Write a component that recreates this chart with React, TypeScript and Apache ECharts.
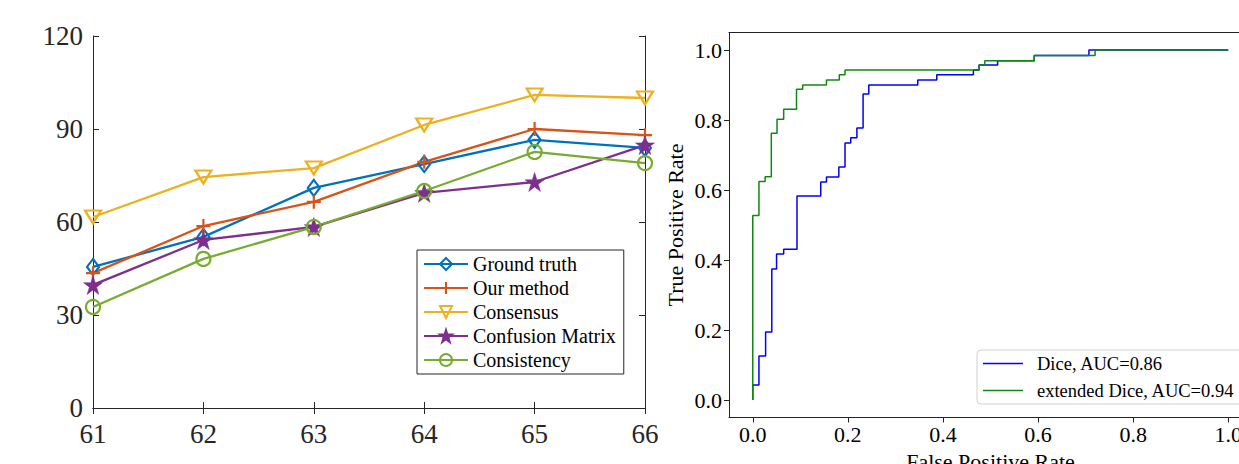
import React, { useEffect, useRef } from "react";
import * as echarts from "echarts";

// ---------- Left panel data ----------
const xCats = [61, 62, 63, 64, 65, 66];
const groundTruth = [45.5, 55.2, 71.0, 78.7, 86.5, 83.9];
const ourMethod = [43.5, 58.7, 66.5, 79.4, 90.0, 88.0];
const consensus = [61.6, 74.5, 77.4, 91.3, 101.0, 100.0];
const confusionMatrix = [39.7, 54.2, 58.4, 69.4, 72.9, 84.8];
const consistency = [32.6, 48.1, 58.4, 70.0, 82.6, 79.0];
const leftNames = ["Ground truth", "Our method", "Consensus", "Confusion Matrix", "Consistency"];

// ---------- Right panel data (ROC) ----------
const diceFpr = [0, 0, 0.013, 0.027, 0.04, 0.05, 0.065, 0.093, 0.143, 0.155, 0.181, 0.194, 0.206, 0.219, 0.232, 0.244, 0.347, 0.387, 0.464, 0.476, 0.515, 0.592, 0.707, 1.0];
const diceTpr = [0, 0.043, 0.126, 0.194, 0.374, 0.417, 0.431, 0.583, 0.623, 0.637, 0.666, 0.734, 0.749, 0.777, 0.874, 0.9, 0.914, 0.929, 0.943, 0.957, 0.969, 0.984, 1.0, 1.0];
const extFpr = [0, 0, 0.013, 0.026, 0.039, 0.051, 0.065, 0.092, 0.105, 0.155, 0.182, 0.194, 0.476, 0.488, 0.592, 0.72, 1.0];
const extTpr = [0, 0.527, 0.624, 0.638, 0.762, 0.802, 0.831, 0.888, 0.9, 0.914, 0.929, 0.943, 0.957, 0.969, 0.984, 1.0, 1.0];
const rocTicks = [0, 0.2, 0.4, 0.6, 0.8, 1.0];
const rocNames = ["Dice, AUC=0.86", "extended Dice, AUC=0.94"];

const SERIF = "'Liberation Serif', 'Times New Roman', serif";
const AX = "#262626";

const STAR = "path://M10,0 L12.245,6.91 L19.51,6.91 L13.63,11.18 L15.88,18.09 L10,13.82 L4.12,18.09 L6.37,11.18 L0.49,6.91 L7.755,6.91 Z";
const PLUS = "path://M5,0 L5,10 M0,5 L10,5";
const DIAMOND = "path://M5,0 L10,7 L5,14 L0,7 Z";
const TRIDOWN = "path://M0,0 L12,0 L6,10 Z";

const clear = "rgba(255,255,255,0)";

function lineSeries(name: string, vals: number[], color: string, symbol: string, size: any, filled = false) {
  return {
    name,
    type: "line",
    xAxisIndex: 0,
    yAxisIndex: 0,
    data: xCats.map((x, i) => [x, vals[i]]),
    color,
    symbol,
    symbolSize: size,
    showAllSymbol: true,
    clip: false,
    lineStyle: { color, width: 2.3 },
    itemStyle: { color: filled ? color : clear, borderColor: color, borderWidth: filled ? 0.5 : 2.2 },
    emphasis: { disabled: true },
  };
}

export default function App() {
  const ref = useRef<HTMLDivElement>(null);
  useEffect(() => {
    const chart = echarts.init(ref.current!, null, { renderer: "svg" });
    const tickLabel = { fontFamily: SERIF, color: AX };
    const option: any = {
      animation: false,
      backgroundColor: "#fff",
      grid: [
        { left: 93, top: 36, width: 552, height: 372, outerBoundsMode: "none", containLabel: false },
        { left: 729, top: 32.5, width: 523, height: 385, outerBoundsMode: "none", containLabel: false },
      ],
      legend: [
        {
          data: leftNames,
          left: 417,
          top: 250,
          orient: "vertical",
          itemWidth: 44,
          itemHeight: 15,
          itemGap: 4,
          padding: [4, 8, 4, 6],
          borderColor: AX,
          borderWidth: 1,
          backgroundColor: "#fff",
          textStyle: { fontFamily: SERIF, fontSize: 20, color: "#000", lineHeight: 20 },
          selectedMode: false,
        },
        {
          data: rocNames.map((n) => ({ name: n, icon: "rect" })),
          left: 977,
          top: 350,
          orient: "vertical",
          itemWidth: 40,
          itemHeight: 1.6,
          itemGap: 8,
          padding: [4, 30, 4, 6],
          borderColor: "#d0d0d0",
          borderWidth: 1,
          borderRadius: 4,
          backgroundColor: "rgba(255,255,255,0.85)",
          textStyle: { fontFamily: SERIF, fontSize: 18.5, color: "#000", lineHeight: 19, padding: [0, 0, 0, 9] },
          selectedMode: false,
        },
      ],
      xAxis: [
        {
          gridIndex: 0, type: "value", min: 61, max: 66, interval: 1,
          axisLine: { lineStyle: { color: AX, width: 1 } },
          axisTick: { inside: true, length: 6, lineStyle: { color: AX } },
          axisLabel: { ...tickLabel, fontSize: 27, margin: 12 },
          splitLine: { show: false },
        },
        {
          gridIndex: 0, type: "value", min: 61, max: 66, interval: 1, position: "top",
          axisLine: { lineStyle: { color: AX, width: 1 } },
          axisTick: { inside: true, length: 6, lineStyle: { color: AX } },
          axisLabel: { show: false },
          splitLine: { show: false },
        },
        {
          gridIndex: 1, type: "value", min: -0.05, max: 1.05,
          name: "False Positive Rate", nameLocation: "middle", nameGap: 29,
          nameTextStyle: { fontFamily: SERIF, fontSize: 22, color: "#000" },
          axisLine: { onZero: false, lineStyle: { color: "#222", width: 1 } },
          axisTick: { customValues: rocTicks, length: 5, lineStyle: { color: "#222" } },
          axisLabel: { customValues: rocTicks, formatter: (v: number) => v.toFixed(1), fontFamily: SERIF, fontSize: 22, color: "#000", margin: 6 },
          splitLine: { show: false },
        },
        {
          gridIndex: 1, type: "value", min: -0.05, max: 1.05, position: "top",
          axisLine: { onZero: false, lineStyle: { color: "#222", width: 1 } },
          axisTick: { show: false }, axisLabel: { show: false }, splitLine: { show: false },
        },
      ],
      yAxis: [
        {
          gridIndex: 0, type: "value", min: 0, max: 120, interval: 30,
          axisLine: { show: true, lineStyle: { color: AX, width: 1 } },
          axisTick: { show: true, inside: true, length: 6, lineStyle: { color: AX } },
          axisLabel: { ...tickLabel, fontSize: 27, margin: 10 },
          splitLine: { show: false },
        },
        {
          gridIndex: 0, type: "value", min: 0, max: 120, interval: 30, position: "right",
          axisLine: { show: true, lineStyle: { color: AX, width: 1 } },
          axisTick: { show: true, inside: true, length: 6, lineStyle: { color: AX } },
          axisLabel: { show: false },
          splitLine: { show: false },
        },
        {
          gridIndex: 1, type: "value", min: -0.05, max: 1.05,
          name: "True Positive Rate", nameLocation: "middle", nameGap: 43,
          nameTextStyle: { fontFamily: SERIF, fontSize: 22, color: "#000" },
          axisLine: { show: true, onZero: false, lineStyle: { color: "#222", width: 1 } },
          axisTick: { show: true, customValues: rocTicks, length: 5, lineStyle: { color: "#222" } },
          axisLabel: { customValues: rocTicks, formatter: (v: number) => v.toFixed(1), fontFamily: SERIF, fontSize: 22, color: "#000", margin: 7 },
          splitLine: { show: false },
        },
        {
          gridIndex: 1, type: "value", min: -0.05, max: 1.05, position: "right",
          axisLine: { show: true, onZero: false, lineStyle: { color: "#222", width: 1 } },
          axisTick: { show: false }, axisLabel: { show: false }, splitLine: { show: false },
        },
      ],
      series: [
        lineSeries(leftNames[0], groundTruth, "#0072BD", DIAMOND, [12, 16]),
        lineSeries(leftNames[1], ourMethod, "#D95319", PLUS, 14),
        lineSeries(leftNames[2], consensus, "#EDB120", TRIDOWN, [16, 13]),
        lineSeries(leftNames[3], confusionMatrix, "#7E2F8E", STAR, 19, true),
        lineSeries(leftNames[4], consistency, "#77AC30", "circle", 14),
        {
          name: rocNames[0], type: "line", xAxisIndex: 2, yAxisIndex: 2,
          data: diceFpr.map((x, i) => [x, diceTpr[i]]),
          step: "end", symbol: "none", color: "#0000ff",
          lineStyle: { color: "#0000ff", width: 1.5 }, emphasis: { disabled: true },
        },
        {
          name: rocNames[1], type: "line", xAxisIndex: 2, yAxisIndex: 2,
          data: extFpr.map((x, i) => [x, extTpr[i]]),
          step: "end", symbol: "none", color: "#118811",
          lineStyle: { color: "#118811", width: 1.5 }, emphasis: { disabled: true },
        },
      ],
    };
    chart.setOption(option);
    return () => chart.dispose();
  }, []);
  return <div ref={ref} style={{ position: "absolute", left: 0, top: 0, width: 1239, height: 464 }} />;
}
